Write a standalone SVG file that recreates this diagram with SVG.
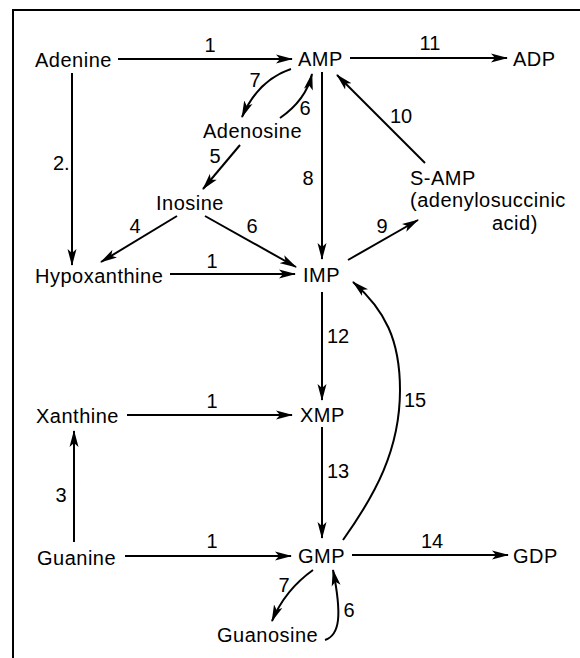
<svg xmlns="http://www.w3.org/2000/svg" width="580" height="658" viewBox="0 0 580 658">
<style>
text{font-family:"Liberation Sans",Arial,Helvetica,sans-serif;font-size:20px;fill:#000}
.n{letter-spacing:0.5px}
.l{text-anchor:middle}
.c{fill:none;stroke:#000;stroke-width:2;marker-end:url(#ah)}
</style>
<defs>
<marker id="ah" viewBox="0 0 17 10" refX="16" refY="5" markerWidth="17" markerHeight="10" orient="auto" markerUnits="userSpaceOnUse">
<path d="M0,0.5 L17,5 L0,9.5 L4,5 z" fill="#000"/>
</marker>
</defs>
<rect width="580" height="658" fill="#fff"/>
<path d="M13,658 L13,10 L580,10" fill="none" stroke="#000" stroke-width="2"/>
<g id="connectors">
<path class="c" d="M118,59 L292,59"/>
<path class="c" d="M350,58 L507,58"/>
<path class="c" d="M322,72 L322,259"/>
<path class="c" d="M425,163 L337,75"/>
<path class="c" d="M348,260 L418,220"/>
<path class="c" d="M72,73 L72,265"/>
<path class="c" d="M291,69 Q258,80 242,117"/>
<path class="c" d="M280,118 Q306,100 312,74"/>
<path class="c" d="M240,145 L203,189"/>
<path class="c" d="M177,216 L101,262"/>
<path class="c" d="M205,216 L296,267"/>
<path class="c" d="M170,274 L295,274"/>
<path class="c" d="M322,292 L322,400"/>
<path class="c" d="M322,427 L322,538"/>
<path class="c" d="M127,415 L292,415"/>
<path class="c" d="M74,542 L74,431"/>
<path class="c" d="M125,556 L291,556"/>
<path class="c" d="M352,555 L508,555"/>
<path class="c" d="M343,540 C375,495 400,450 400,390 C400,340 385,310 353,282"/>
<path class="c" d="M313,570 Q285,590 272,621"/>
<path class="c" d="M325,640 C340,635 342,615 333,570"/>
</g>
<g id="edge-labels">
<text class="l" x="210" y="52">1</text>
<text class="l" x="430" y="50">11</text>
<text class="l" x="255" y="87">7</text>
<text class="l" x="305" y="115">6</text>
<text class="l" x="401" y="123">10</text>
<text class="l" x="308" y="185">8</text>
<text x="53" y="170">2.</text>
<text class="l" x="215" y="163">5</text>
<text class="l" x="135" y="233">4</text>
<text class="l" x="252" y="233">6</text>
<text class="l" x="382" y="233">9</text>
<text class="l" x="212" y="268">1</text>
<text class="l" x="338" y="343">12</text>
<text class="l" x="415" y="407">15</text>
<text class="l" x="212" y="408">1</text>
<text class="l" x="338" y="478">13</text>
<text class="l" x="61" y="502">3</text>
<text class="l" x="212" y="548">1</text>
<text class="l" x="432" y="548">14</text>
<text class="l" x="284" y="592">7</text>
<text class="l" x="349" y="617">6</text>
</g>
<g id="adenine"><text class="n" x="35" y="67">Adenine</text></g>
<g id="amp"><text class="n" x="298" y="66">AMP</text></g>
<g id="adp"><text class="n" x="513" y="66">ADP</text></g>
<g id="adenosine"><text class="n" x="203" y="138">Adenosine</text></g>
<g id="inosine"><text class="n" x="156" y="210">Inosine</text></g>
<g id="hypoxanthine"><text class="n" x="35" y="283">Hypoxanthine</text></g>
<g id="imp"><text class="n" x="303" y="282">IMP</text></g>
<g id="s-amp">
<text class="n" x="410" y="185">S-AMP</text>
<text class="n" x="410" y="207">(adenylosuccinic</text>
<text class="n" x="492" y="230">acid)</text>
</g>
<g id="xanthine"><text class="n" x="36" y="423">Xanthine</text></g>
<g id="xmp"><text class="n" x="300" y="422">XMP</text></g>
<g id="guanine"><text class="n" x="37" y="565">Guanine</text></g>
<g id="gmp"><text class="n" x="298" y="563">GMP</text></g>
<g id="gdp"><text class="n" x="513" y="563">GDP</text></g>
<g id="guanosine"><text class="n" x="217" y="642">Guanosine</text></g>
</svg>
